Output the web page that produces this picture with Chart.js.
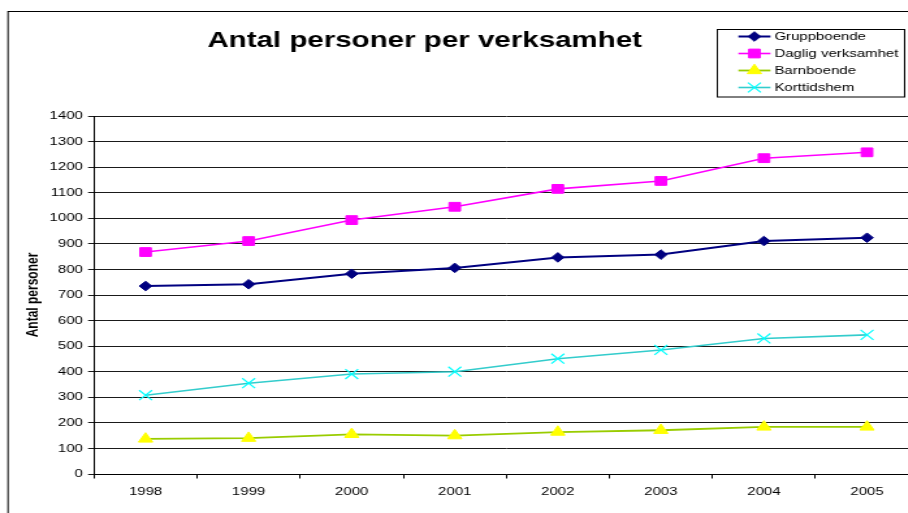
<!DOCTYPE html>
<html>
<head>
<meta charset="utf-8">
<script src="https://cdn.jsdelivr.net/npm/chart.js@4.4.1/dist/chart.umd.min.js"></script>
<style>
  html, body { margin: 0; padding: 0; background: #fff; overflow: hidden; width: 908px; height: 513px; }
  #c { display: block; }
</style>
</head>
<body>
<canvas id="c" width="715" height="513" style="width:929.5px;height:513px"></canvas>
<script>
const categories = ['1998', '1999', '2000', '2001', '2002', '2003', '2004', '2005'];
const gruppboende = [735, 742, 783, 806, 847, 858, 911, 924];
const dagligVerksamhet = [868, 911, 993, 1045, 1115, 1146, 1235, 1258];
const barnboende = [137, 140, 155, 150, 164, 171, 184, 184];
const korttidshem = [308, 355, 391, 400, 451, 485, 530, 544];
const seriesNames = ['Gruppboende', 'Daglig verksamhet', 'Barnboende', 'Korttidshem'];
const chartTitle = 'Antal personer per verksamhet';
const yAxisTitle = 'Antal personer';
const yTicks = { min: 0, max: 1400, step: 100 };

const FONT = '"Liberation Sans", Arial, sans-serif';

const decorPlugin = {
  id: 'decor',
  afterDraw(chart) {
    const ctx = chart.ctx;
    ctx.save();
    // outer border
    ctx.strokeStyle = '#000';
    ctx.lineWidth = 1;
    ctx.strokeRect(6.15, 11.5, chart.width + 20, chart.height + 20);
    // title
    ctx.fillStyle = '#000';
    ctx.font = 'bold 22.7px ' + FONT;
    ctx.textAlign = 'center';
    ctx.textBaseline = 'alphabetic';
    ctx.fillText(chartTitle, 326.5, 47);
    // legend
    const bx = 551.5, by = 29.5, bw = 144, bh = 67.5;
    ctx.fillStyle = '#fff';
    ctx.fillRect(bx, by, bw, bh);
    ctx.strokeStyle = '#000';
    ctx.lineWidth = 1;
    ctx.strokeRect(bx, by, bw, bh);
    const rows = [36.5, 53.5, 70.5, 87.5];
    chart.data.datasets.forEach((ds, i) => {
      const y = rows[i];
      ctx.strokeStyle = ds.borderColor;
      ctx.lineWidth = ds.borderWidth;
      ctx.beginPath();
      ctx.moveTo(567.7, y);
      ctx.lineTo(592.3, y);
      ctx.stroke();
      ctx.fillStyle = ds.pointBackgroundColor;
      ctx.strokeStyle = ds.pointBorderColor;
      ctx.lineWidth = ds.pointBorderWidth;
      Chart.helpers.drawPoint(ctx, {
        pointStyle: ds.pointStyle,
        radius: ds.pointRadius,
        rotation: 0,
        borderWidth: ds.pointBorderWidth
      }, 580, y);
      ctx.fillStyle = '#000';
      ctx.font = '11.5px ' + FONT;
      ctx.textAlign = 'left';
      ctx.textBaseline = 'middle';
      ctx.fillText(ds.label, 595.4, y + 0.5);
    });
    ctx.restore();
  }
};

new Chart(document.getElementById('c'), {
  type: 'line',
  data: {
    labels: categories,
    datasets: [
      {
        label: seriesNames[0], data: gruppboende,
        borderColor: '#000080', borderWidth: 2,
        pointStyle: 'rectRot', pointRadius: 4.8,
        pointBackgroundColor: '#000080', pointBorderColor: '#000080', pointBorderWidth: 1
      },
      {
        label: seriesNames[1], data: dagligVerksamhet,
        borderColor: '#FF00FF', borderWidth: 1.6,
        pointStyle: 'rect', pointRadius: 6.2,
        pointBackgroundColor: '#FF00FF', pointBorderColor: '#FF00FF', pointBorderWidth: 1
      },
      {
        label: seriesNames[2], data: barnboende,
        borderColor: '#99CC00', borderWidth: 1.8,
        pointStyle: 'triangle', pointRadius: 6.3,
        pointBackgroundColor: '#FFFF00', pointBorderColor: '#FFFF00', pointBorderWidth: 1
      },
      {
        label: seriesNames[3], data: korttidshem,
        borderColor: '#33CCCC', borderWidth: 1.6,
        pointStyle: 'crossRot', pointRadius: 7,
        pointBackgroundColor: '#00FFFF', pointBorderColor: '#00FFFF', pointBorderWidth: 1.2
      }
    ]
  },
  options: {
    responsive: false,
    devicePixelRatio: 1,
    animation: false,
    events: [],
    layout: { padding: { top: 116, left: 10, right: 8.8, bottom: 0 } },
    elements: { line: { tension: 0 } },
    plugins: {
      legend: { display: false },
      title: { display: false },
      tooltip: { enabled: false }
    },
    scales: {
      x: {
        type: 'category',
        offset: true,
        afterFit(scale) { scale.height = 39; },
        grid: {
          offset: true,
          drawOnChartArea: false,
          drawTicks: true,
          tickLength: 4.5,
          color: '#000',
          lineWidth: 1
        },
        border: { display: true, color: '#000', width: 1 },
        ticks: {
          color: '#000',
          font: { family: FONT, size: 11.5 },
          padding: 6.5,
          maxRotation: 0,
          autoSkip: false
        }
      },
      y: {
        min: yTicks.min,
        max: yTicks.max,
        afterFit(scale) { scale.width = 62.3; },
        grid: {
          color: '#1a1a1a',
          lineWidth: 1,
          drawTicks: true,
          tickLength: 4.6
        },
        border: { display: true, color: '#000', width: 1 },
        ticks: {
          stepSize: yTicks.step,
          color: '#000',
          font: { family: FONT, size: 11.5 },
          padding: 4,
          callback: (v) => String(v)
        },
        title: {
          display: true,
          text: yAxisTitle,
          color: '#000',
          font: { family: FONT, size: 12, weight: 'bold' },
          padding: { top: 8.2, bottom: 0 }
        }
      }
    }
  },
  plugins: [decorPlugin]
});
</script>
</body>
</html>
